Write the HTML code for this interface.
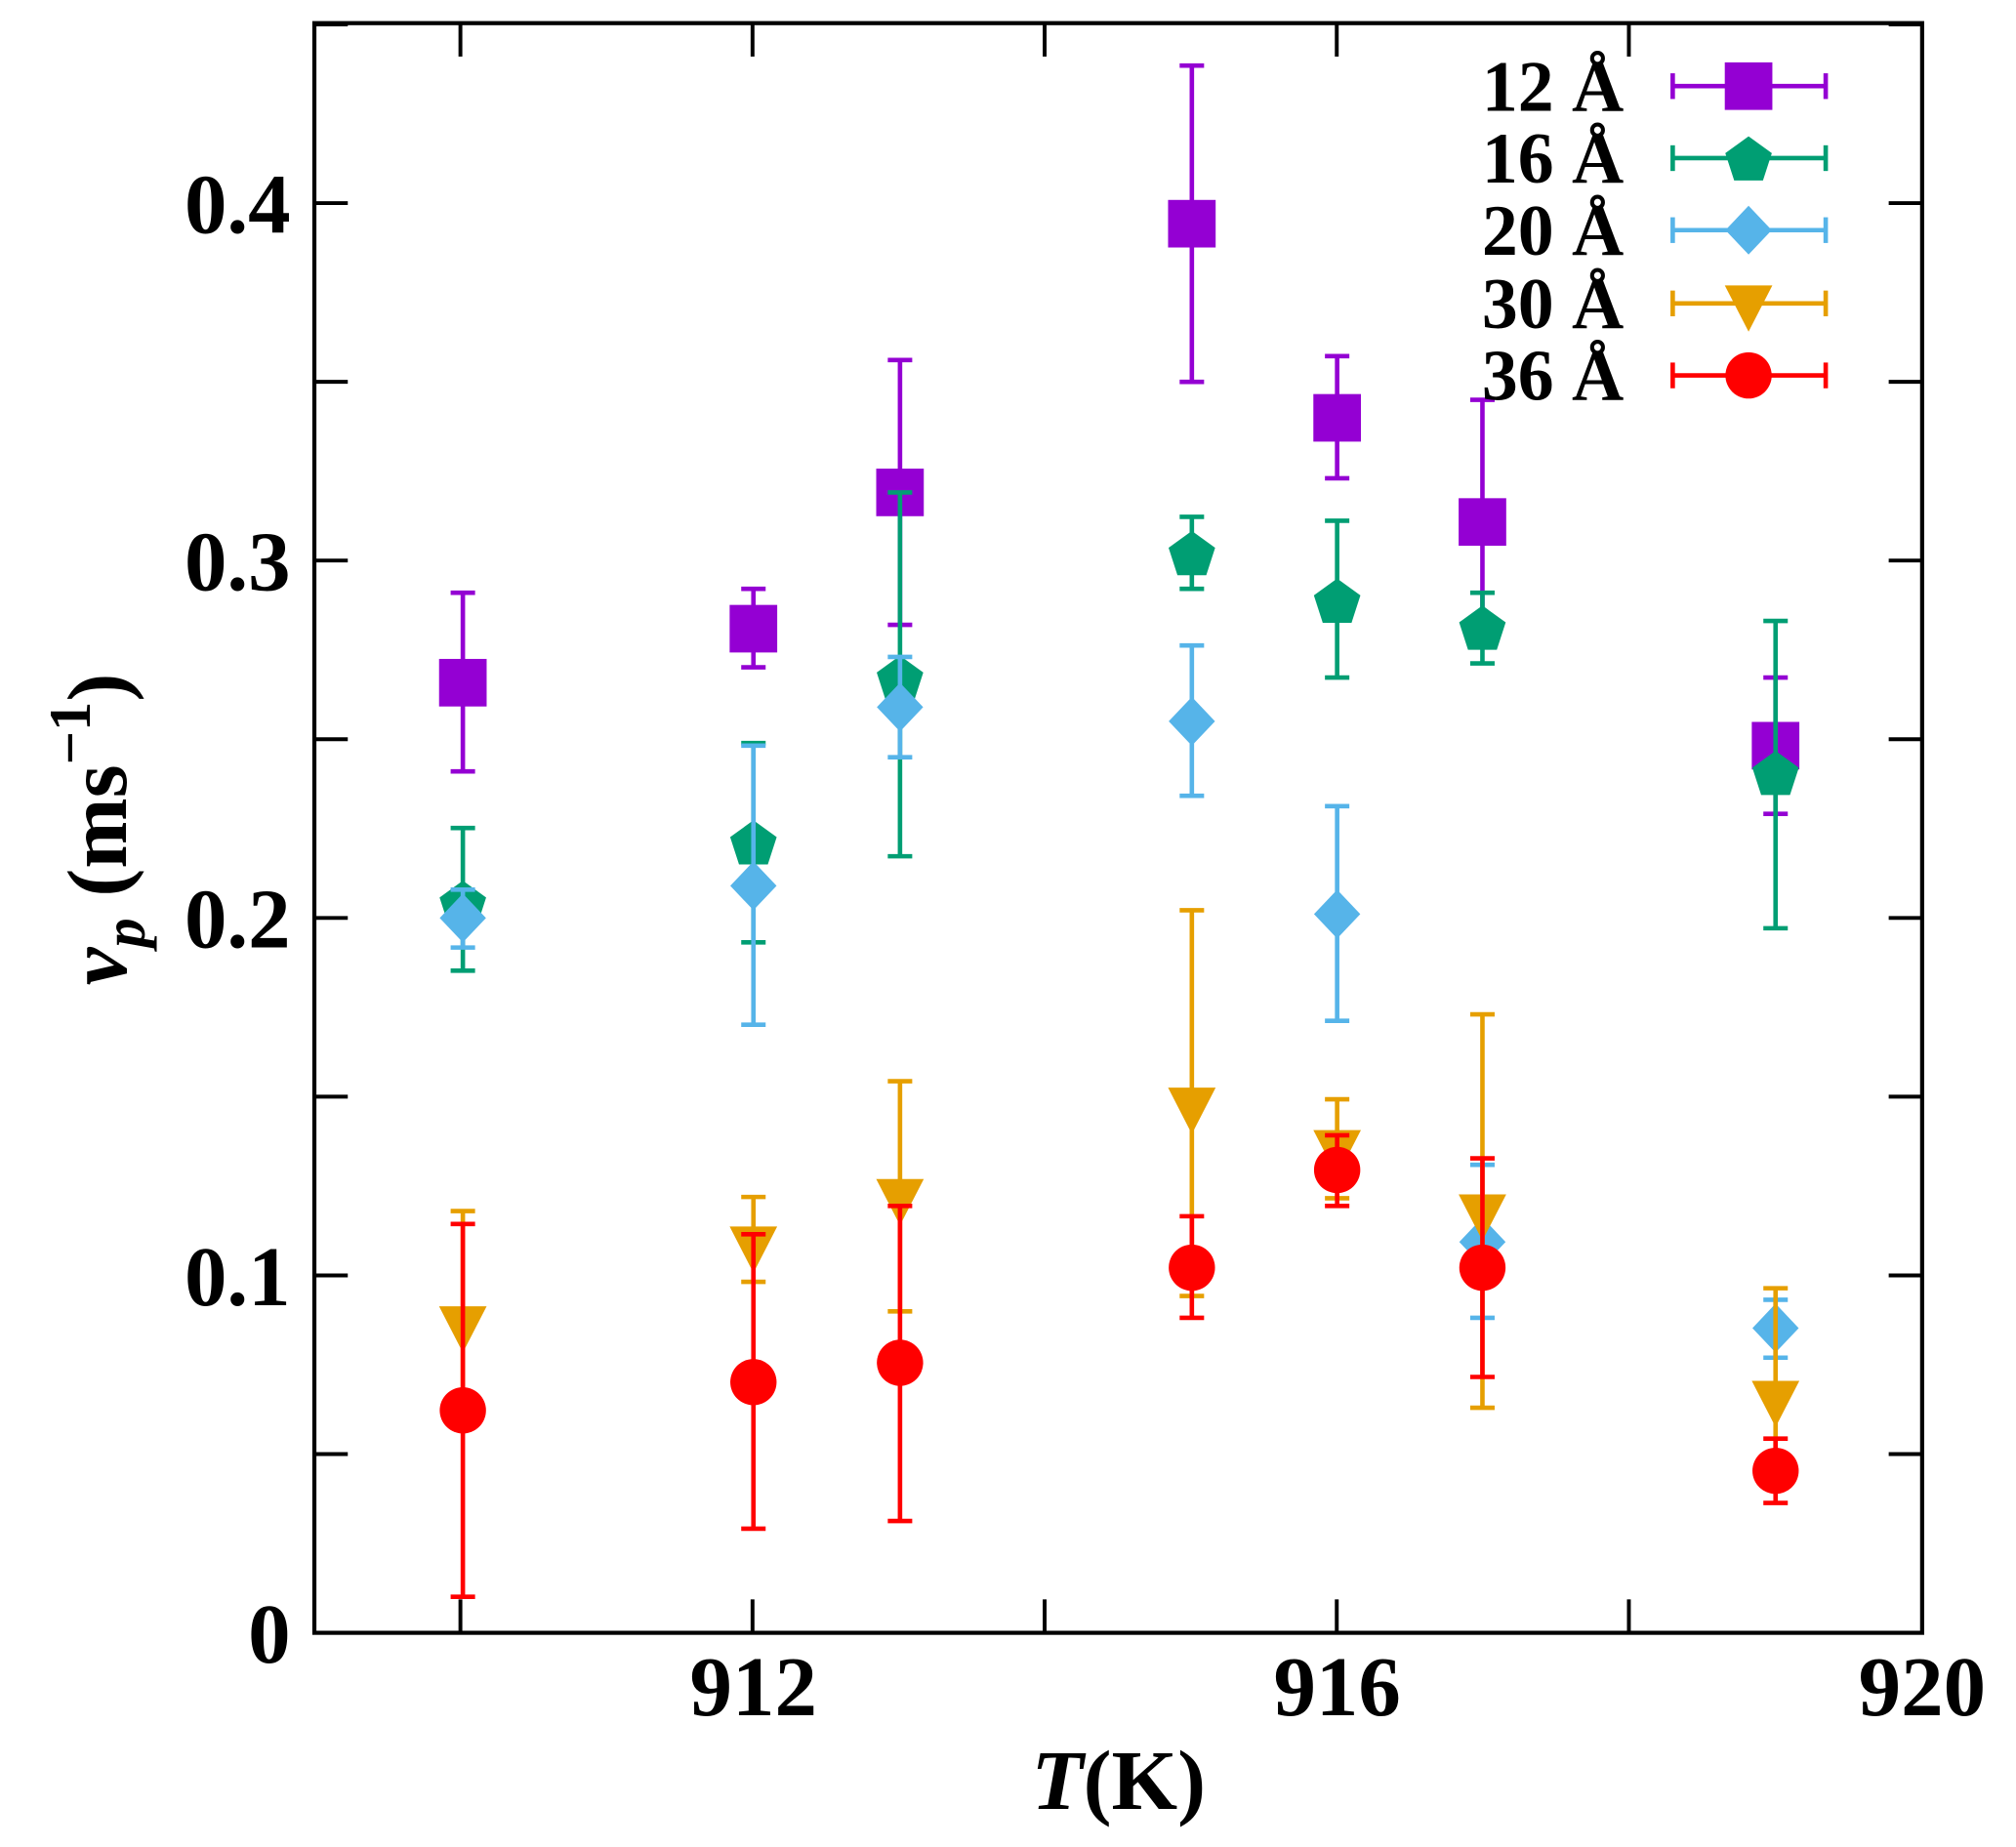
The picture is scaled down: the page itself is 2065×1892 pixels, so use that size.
<!DOCTYPE html>
<html><head><meta charset="utf-8"><style>html,body{margin:0;padding:0;background:#fff}svg{display:block}</style></head>
<body>
<svg id="s" width="2065" height="1892" viewBox="0 0 1568 1436.6" preserveAspectRatio="none" xmlns="http://www.w3.org/2000/svg" font-family="'Liberation Serif',serif" font-weight="bold"></svg>
<script>
var s=document.getElementById('s'),h='';
var L=244.5,R=1495,T=18,B=1270;
for(var v=0.05;v<0.45;v+=0.05){var y=B-v*2780;h+='<line x1="'+L+'" x2="'+(L+26)+'" y1="'+y+'" y2="'+y+'" stroke="#000" stroke-width="3"/><line x1="'+(R-26)+'" x2="'+R+'" y1="'+y+'" y2="'+y+'" stroke="#000" stroke-width="3"/>';}
for(var t=910;t<920;t+=2){var x=L+(t-909)*113.6;h+='<line x1="'+x+'" x2="'+x+'" y1="'+B+'" y2="'+(B-26)+'" stroke="#000" stroke-width="3"/><line x1="'+x+'" x2="'+x+'" y1="'+T+'" y2="'+(T+26)+'" stroke="#000" stroke-width="3"/>';}
var yl=[["0",1270],["0.1",992],["0.2",714],["0.3",436],["0.4",158]];
yl.forEach(function(a){h+='<text x="226" y="'+(a[1]+23)+'" font-size="66" text-anchor="end">'+a[0]+'</text>';});
[["912",586],["916",1040],["920",1495]].forEach(function(a){h+='<text x="'+a[1]+'" y="1334" font-size="66" text-anchor="middle">'+a[0]+'</text>';});
h+='<text x="870" y="1407" font-size="66" text-anchor="middle"><tspan font-style="italic">T</tspan>(K)</text>';
h+='<text transform="translate(98,645) rotate(-90)" font-size="66" text-anchor="middle"><tspan font-style="italic">v</tspan><tspan font-style="italic" font-size="46" dy="14">p</tspan><tspan dy="-14"> (ms</tspan><tspan font-size="46" dy="-28">−1</tspan><tspan dy="28">)</tspan></text>';
function mk(type,x,y,c){
 if(type==0)return '<rect x="'+(x-18.5)+'" y="'+(y-18.5)+'" width="37" height="37" fill="'+c+'"/>';
 if(type==1){var p=[];for(var i=0;i<5;i++){var a=-Math.PI/2+i*2*Math.PI/5;p.push((x+19*Math.cos(a)).toFixed(1)+','+(y+19*Math.sin(a)+2).toFixed(1));}return '<polygon points="'+p.join(' ')+'" fill="'+c+'"/>';}
 if(type==2)return '<polygon points="'+x+','+(y-19)+' '+(x+18)+','+y+' '+x+','+(y+19)+' '+(x-18)+','+y+'" fill="'+c+'"/>';
 if(type==3)return '<polygon points="'+(x-18.5)+','+(y-14)+' '+(x+18.5)+','+(y-14)+' '+x+','+(y+22)+'" fill="'+c+'"/>';
 return '<circle cx="'+x+'" cy="'+y+'" r="18" fill="'+c+'"/>';
}
function eb(x,a,b,c){return '<line x1="'+x+'" x2="'+x+'" y1="'+a+'" y2="'+b+'" stroke="'+c+'" stroke-width="3.5"/><line x1="'+(x-9.5)+'" x2="'+(x+9.5)+'" y1="'+a+'" y2="'+a+'" stroke="'+c+'" stroke-width="3.5"/><line x1="'+(x-9.5)+'" x2="'+(x+9.5)+'" y1="'+b+'" y2="'+b+'" stroke="'+c+'" stroke-width="3.5"/>';}
var S=[
 ['#9400d3',0,[[360,531,461,600],[586,489,458,519],[700,383,280,486],[927,174,51,297],[1040,325,277,372],[1153,406,311,500],[1381,580,527,633]]],
 ['#009e73',1,[[360,702,644,755],[586,655,578,733],[700,527,383,666],[927,430,402,458],[1040,467,405,527],[1153,488,461,516],[1381,601,483,722]]],
 ['#56b4e9',2,[[360,714,692,737],[586,689,580,797],[700,550,511,589],[927,561,502,619],[1040,711,627,794],[1153,966,906,1025],[1381,1033,1011,1056]]],
 ['#e69f00',3,[[360,1030,942,1090],[586,968,931,997],[700,931,841,1020],[927,860,708,1008],[1040,893,855,932],[1153,943,789,1095],[1381,1088,1002,1138]]],
 ['#ff0000',4,[[360,1097,952,1242],[586,1075,960,1189],[700,1060,938,1183],[927,986,946,1025],[1040,910,883,938],[1153,986,901,1071],[1381,1144,1119,1169]]]
];
var labs=["12 Å","16 Å","20 Å","30 Å","36 Å"],ly=[67,123,179,236,292];
S.forEach(function(se,k){
 se[2].forEach(function(d){h+=eb(d[0],d[2],d[3],se[0]);h+=mk(se[1],d[0],d[1],se[0]);});
 var y=ly[k];
 h+='<text x="1263" y="'+(y+19)+'" font-size="56" text-anchor="end">'+labs[k]+'</text>';
 h+='<line x1="1301" x2="1420" y1="'+y+'" y2="'+y+'" stroke="'+se[0]+'" stroke-width="3.5"/>';
 h+='<line x1="1301" x2="1301" y1="'+(y-10)+'" y2="'+(y+10)+'" stroke="'+se[0]+'" stroke-width="3.5"/><line x1="1420" x2="1420" y1="'+(y-10)+'" y2="'+(y+10)+'" stroke="'+se[0]+'" stroke-width="3.5"/>';
 h+=mk(se[1],1360,y,se[0]);
});
h+='<rect x="'+L+'" y="'+T+'" width="'+(R-L)+'" height="'+(B-T)+'" fill="none" stroke="#000" stroke-width="3.2"/>';
s.innerHTML=h;
</script>
</body></html>
